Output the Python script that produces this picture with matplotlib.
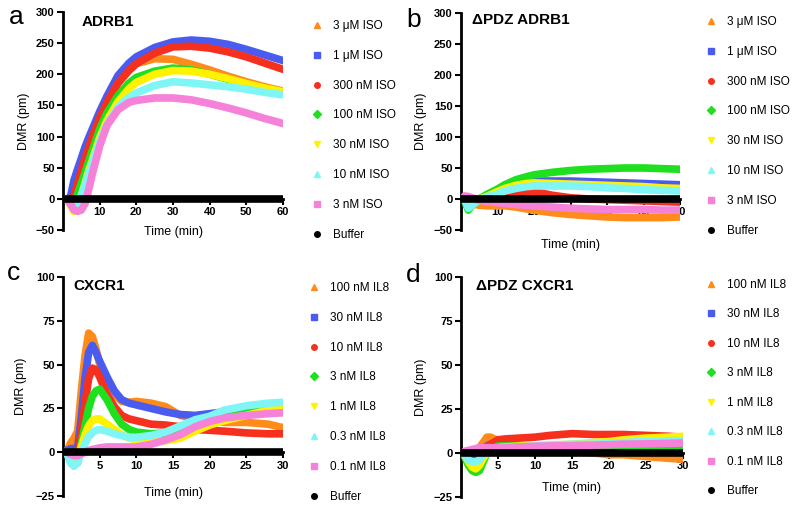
import numpy as np
import matplotlib
matplotlib.use("Agg")
import matplotlib.pyplot as plt
from matplotlib.lines import Line2D

plt.rcParams['font.family'] = ['Liberation Sans', 'DejaVu Sans']
plt.rcParams['font.weight'] = 'bold'

# colours / markers shared by all four panels (Prism-like)
colors = ['#ff8c1a', '#4a5cf0', '#f5301f', '#1ee01e', '#fff200', '#80f5f5', '#f582d8', '#000000']
markers = ['^', 's', 'o', 'D', 'v', '^', 's', 'o']

iso_labels = ['3 \u03bcM ISO', '1 \u03bcM ISO', '300 nM ISO', '100 nM ISO',
              '30 nM ISO', '10 nM ISO', '3 nM ISO', 'Buffer']
il8_labels = ['100 nM IL8', '30 nM IL8', '10 nM IL8', '3 nM IL8',
              '1 nM IL8', '0.3 nM IL8', '0.1 nM IL8', 'Buffer']

# panel a : ADRB1
t_a = [1, 2, 3, 4, 5, 6, 7, 8, 10, 12, 15, 18, 20, 25, 30, 35, 40, 45, 50, 55, 60]
a_orange = [0, -4, -8, 5, 25, 45, 65, 85, 120, 150, 185, 208, 217, 225, 224, 216, 207, 197, 188, 180, 173]
a_blue = [0, 2, 30, 48, 65, 83, 98, 112, 140, 165, 198, 218, 228, 243, 252, 255, 253, 248, 240, 231, 222]
a_red = [0, -2, 5, 25, 45, 65, 83, 100, 130, 155, 186, 206, 217, 234, 244, 245, 242, 236, 228, 218, 208]
a_green = [0, -3, -5, 8, 25, 42, 60, 78, 112, 138, 166, 186, 195, 205, 210, 207, 200, 192, 184, 177, 172]
a_yellow = [0, -10, -20, -12, 5, 25, 45, 62, 98, 126, 156, 177, 187, 200, 206, 205, 200, 193, 185, 178, 172]
a_cyan = [0, -8, -15, -8, 5, 22, 40, 58, 92, 120, 147, 163, 170, 182, 188, 186, 183, 180, 176, 171, 167]
a_pink = [0, -8, -18, -20, -18, -8, 15, 40, 85, 118, 143, 155, 158, 162, 162, 159, 153, 146, 138, 129, 121]
a_buffer = [0] * len(t_a)

# panel b : dPDZ ADRB1
t_b = [1, 2, 3, 5, 7, 10, 12, 15, 18, 20, 25, 30, 35, 40, 45, 50, 55, 60]
b_orange = [0, -5, -8, -10, -11, -11, -11, -13, -16, -18, -22, -25, -27, -29, -30, -30, -30, -29]
b_blue = [0, -3, -3, 0, 5, 12, 19, 25, 28, 29, 29, 29, 28, 27, 26, 25, 24, 23]
b_red = [0, -2, -3, -2, 0, 2, 5, 9, 11, 12, 6, 2, 0, -1, -2, -3, -4, -5]
b_green = [-3, -18, -10, 0, 7, 16, 23, 31, 36, 39, 43, 46, 48, 49, 50, 50, 49, 48]
b_yellow = [0, -5, -5, 0, 4, 12, 17, 22, 25, 26, 25, 24, 23, 22, 21, 20, 18, 17]
b_cyan = [0, -15, -10, -2, 3, 8, 13, 17, 20, 21, 21, 21, 20, 18, 17, 15, 14, 13]
b_pink = [5, 4, 2, -2, -4, -6, -7, -9, -10, -11, -13, -15, -16, -17, -17, -17, -18, -18]
b_buffer = [0] * len(t_b)

# panel c : CXCR1
t_c = [0.5, 1, 1.5, 2, 2.5, 3, 3.5, 4, 4.5, 5, 6, 7, 8, 9, 10, 12, 14, 16, 18, 20, 22, 25, 28, 30]
c_orange = [0, 5, 8, 12, 35, 55, 68, 66, 59, 50, 40, 33, 29, 28.5, 29, 28, 26, 21, 19, 18, 17, 17, 16, 14]
c_blue = [1, 2, 2, 3, 20, 42, 57, 61, 57, 52, 43, 35, 30, 28, 27, 25, 23, 21.5, 21, 22, 23, 24, 25, 26]
c_red = [0, -2, -4, 0, 12, 28, 42, 48, 47, 43, 33, 26, 21, 19, 18, 16, 15.5, 14.5, 13, 12.5, 12, 11, 10.5, 10.5]
c_green = [0, -5, -7, -6, 5, 15, 25, 32, 35, 36, 30, 22, 16, 13, 11.5, 10.5, 11, 13, 17, 20, 22, 24, 26, 27]
c_yellow = [0, -4, -6, -4, 3, 10, 15, 18, 19, 19, 16, 13, 10, 8, 7, 6, 6.5, 8, 12, 15.5, 18, 21, 24, 26]
c_cyan = [0, -6, -8, -6, 0, 5, 9, 11, 12.5, 13, 12, 10.5, 9.5, 8.5, 8.5, 9.5, 11.5, 15, 18.5, 20.5, 24, 26.5, 28, 28.5]
c_pink = [0, -1, -2, -2, -1, 0, 1, 1.5, 2, 2.5, 3, 3, 3, 3, 3, 4.5, 7, 10, 14.5, 17.5, 19.5, 21, 22, 22.5]
c_buffer = [0] * len(t_c)

# panel d : dPDZ CXCR1
t_d = [0.5, 1, 1.5, 2, 2.5, 3, 3.5, 4, 5, 6, 8, 10, 12, 15, 18, 20, 22, 25, 28, 30]
d_orange = [0, 0, 1, 2, 3, 6, 9, 9, 7, 5, 4, 3, 2, 1, 0, -1, -1, -2, -3, -3.5]
d_blue = [0, -1, -2, -2, -1, 2, 4, 5, 5.5, 5, 4, 3, 2.5, 2, 2, 2, 2, 2, 2, 2]
d_red = [-2, -5, -6, -6, -3, -1, 3, 5, 7.5, 8, 8.5, 9, 10, 11, 10.5, 10.5, 10.5, 10, 9.5, 9]
d_green = [-2, -7, -10, -11, -10, -5, 0, 2, 4, 4, 4, 4, 4, 4, 4, 4, 4, 4, 3.5, 3.5]
d_yellow = [-1, -5, -8, -9, -7, -3, 0, 2, 3, 3.5, 4, 4, 4.5, 5, 6, 6.5, 7.5, 8.5, 9, 9.5]
d_cyan = [-1, -4, -5, -5, -4, -1, 1, 2, 3, 3, 3.5, 4, 4.5, 5, 5, 5.5, 6, 6.5, 7, 7]
d_pink = [1, 1.5, 2, 2.5, 3, 3, 3, 3, 3, 3.2, 3.5, 3.8, 4, 4.2, 4.5, 4.7, 5, 5.2, 5.5, 5.7]
d_buffer = [0] * len(t_d)


def draw(ax, t, series, xmax, xticks, ylim, yticks):
    # curves first, buffer (last) drawn as a flat band across the whole axis
    for y, c in zip(series[:-1], colors):
        ax.plot(t, y, color=c, lw=5.5, solid_capstyle='round', solid_joinstyle='round', zorder=3)
    ax.plot([0, xmax], [series[-1][0], series[-1][-1]], color=colors[-1], lw=5.5,
            solid_capstyle='round', zorder=3)
    ax.set_xlim(0, xmax)
    ax.set_ylim(*ylim)
    ax.set_xticks(xticks)
    ax.set_yticks(yticks)
    ax.spines['top'].set_visible(False)
    ax.spines['right'].set_visible(False)
    ax.spines['bottom'].set_position(('data', 0))
    ax.spines['left'].set_linewidth(2)
    ax.spines['bottom'].set_linewidth(2)
    ax.tick_params(direction='out', length=4, width=1.5, labelsize=8, pad=2)
    ax.set_axisbelow(True)
    ax.set_facecolor('none')


def legend(ax, labels, x, y, spacing):
    h = [Line2D([], [], ls='none', marker=m, color=c, markersize=4) for m, c in zip(markers, colors)]
    ax.legend(h, labels, loc='upper left', bbox_to_anchor=(x / 799, 1 - y / 508),
              bbox_transform=ax.figure.transFigure, frameon=False, borderpad=0,
              borderaxespad=0, handlelength=1, handletextpad=0.9, labelspacing=spacing,
              prop={'size': 8.5, 'weight': 'normal'})


fig = plt.figure(figsize=(7.99, 5.08), dpi=100)
W, H = 799, 508
ax1 = fig.add_axes([63 / W, 1 - 230 / H, 220 / W, 218 / H])
ax2 = fig.add_axes([461 / W, 1 - 230 / H, 219 / W, 217 / H])
ax3 = fig.add_axes([63 / W, 1 - 496 / H, 220 / W, 219 / H])
ax4 = fig.add_axes([461 / W, 1 - 497 / H, 222 / W, 220 / H])

draw(ax1, t_a, [a_orange, a_blue, a_red, a_green, a_yellow, a_cyan, a_pink, a_buffer],
     60, [10, 20, 30, 40, 50, 60], (-50, 300), np.arange(-50, 301, 50))
draw(ax2, t_b, [b_orange, b_blue, b_red, b_green, b_yellow, b_cyan, b_pink, b_buffer],
     60, [10, 20, 30, 40, 50, 60], (-50, 300), np.arange(-50, 301, 50))
draw(ax3, t_c, [c_orange, c_blue, c_red, c_green, c_yellow, c_cyan, c_pink, c_buffer],
     30, [5, 10, 15, 20, 25, 30], (-25, 100), np.arange(-25, 101, 25))
draw(ax4, t_d, [d_orange, d_blue, d_red, d_green, d_yellow, d_cyan, d_pink, d_buffer],
     30, [5, 10, 15, 20, 25, 30], (-25, 100), np.arange(-25, 101, 25))

# axis labels
for ax, xl, yl in [(ax1, 0.018, -0.15), (ax2, -0.04, -0.155), (ax3, 0.041, -0.165), (ax4, 0.068, -0.154)]:
    ax.set_xlabel('Time (min)', fontsize=9)
    ax.set_ylabel('DMR (pm)', fontsize=9)
    ax.xaxis.set_label_coords(0.5, xl)
    ax.yaxis.set_label_coords(yl, 0.5)

# titles inside the panels
ax1.text(0.086, 0.955, 'ADRB1', transform=ax1.transAxes, fontsize=11, va='center')
ax2.text(0.05, 0.967, '\u0394PDZ ADRB1', transform=ax2.transAxes, fontsize=11, va='center')
ax3.text(0.045, 0.959, 'CXCR1', transform=ax3.transAxes, fontsize=11, va='center')
ax4.text(0.068, 0.959, '\u0394PDZ CXCR1', transform=ax4.transAxes, fontsize=11, va='center')

# panel letters
for x, y, s in [(16, 17, 'a'), (414, 20, 'b'), (14, 273, 'c'), (413, 275, 'd')]:
    fig.text(x / W, 1 - y / H, s, fontsize=19, weight='normal', ha='center', va='center')

legend(ax1, iso_labels, 311, 20, 1.51)
legend(ax2, iso_labels, 705, 16, 1.51)
legend(ax3, il8_labels, 308, 282, 1.51)
legend(ax4, il8_labels, 705, 279, 1.48)

fig.savefig('out.png', dpi=100)
